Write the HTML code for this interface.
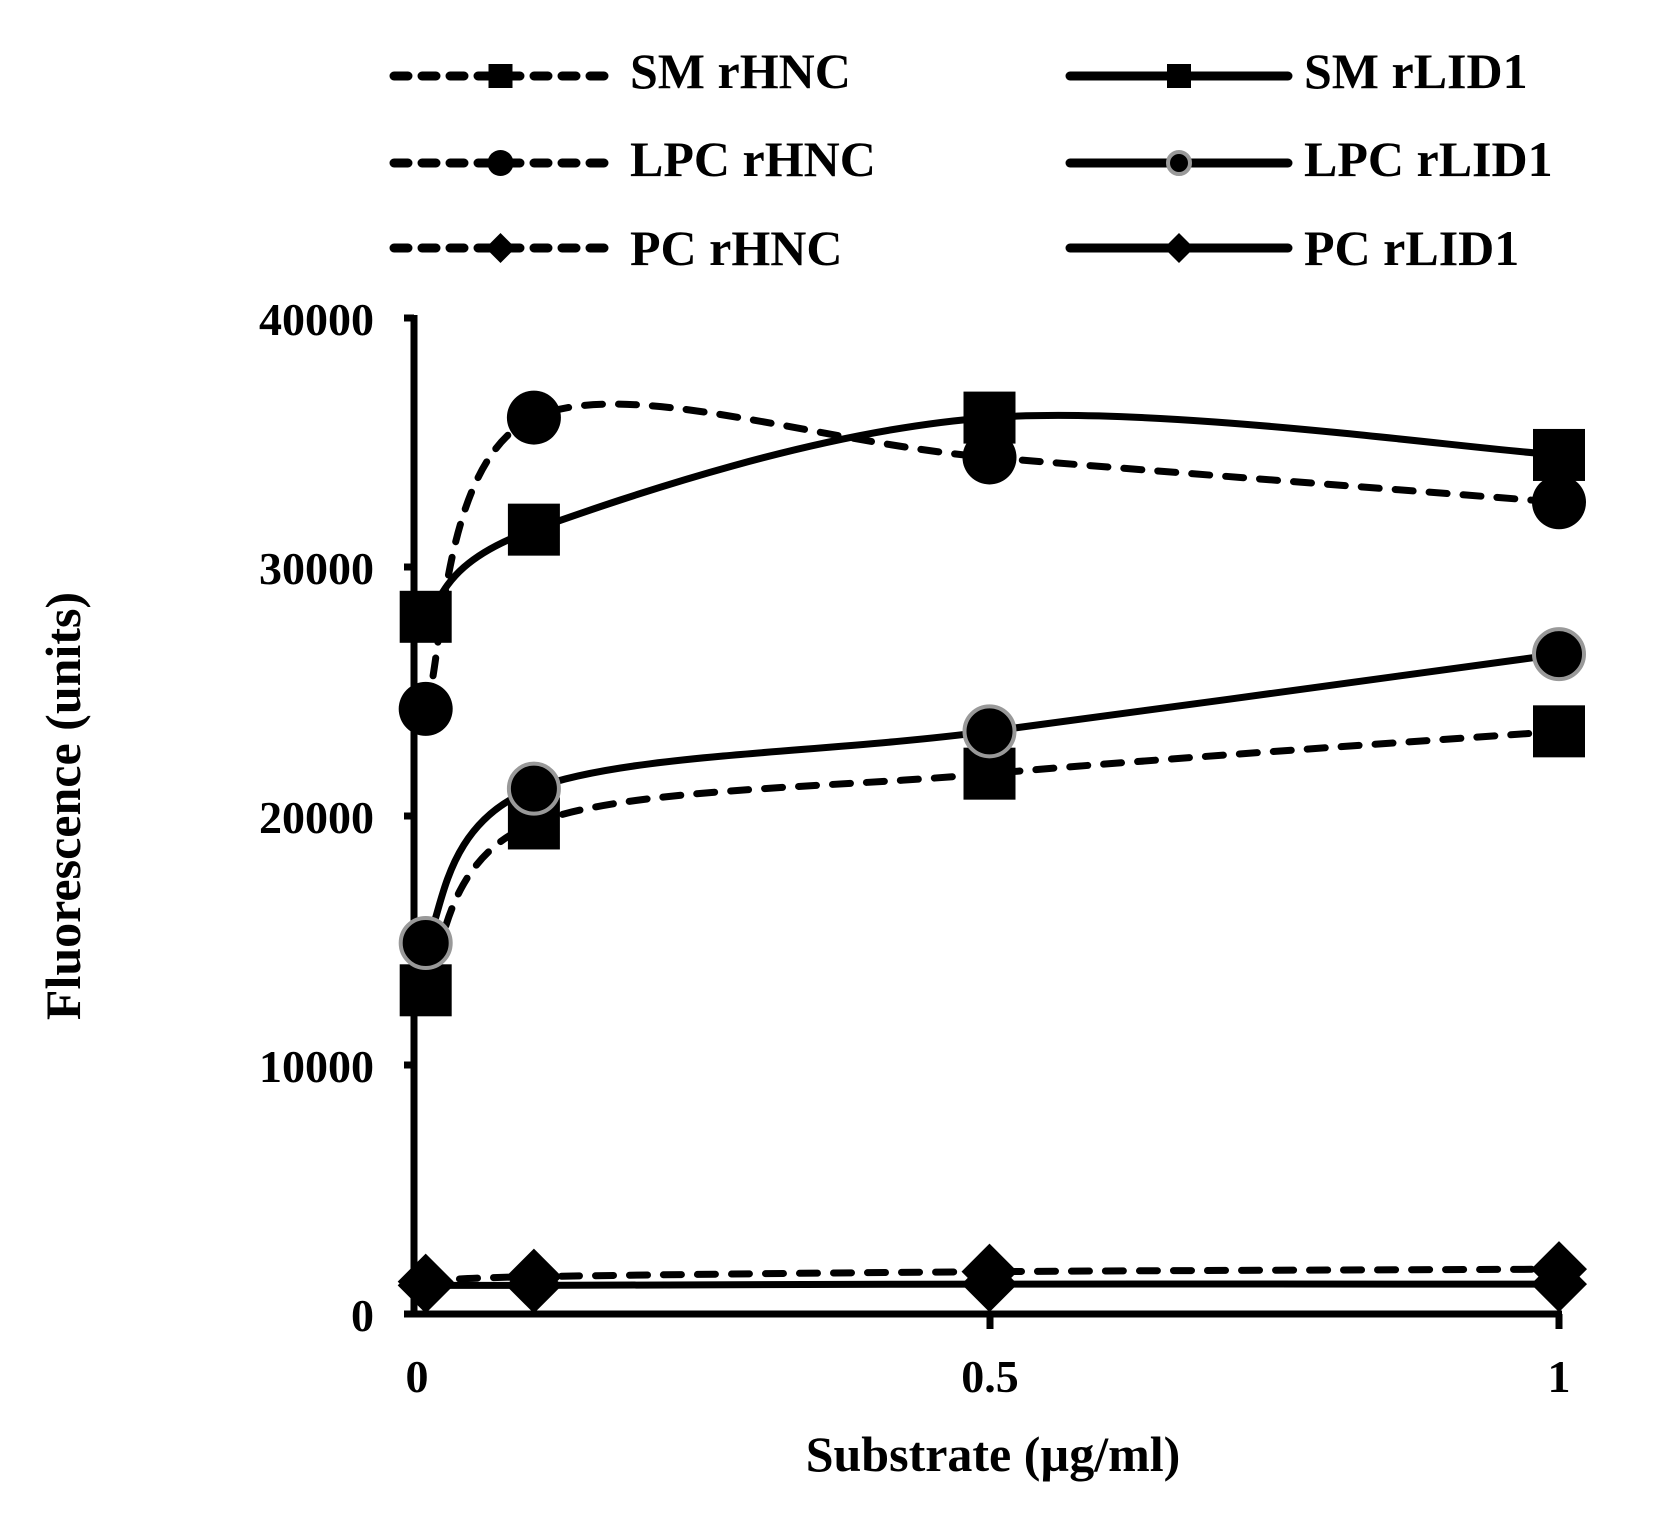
<!DOCTYPE html>
<html><head><meta charset="utf-8"><style>
html,body{margin:0;padding:0;background:#fff}
svg{display:block}
text{font-family:"Liberation Serif",serif;font-weight:bold;fill:#000}
</style></head><body>
<svg id="s" width="1653" height="1531" viewBox="0 0 1653 1531" xmlns="http://www.w3.org/2000/svg">
<g font-size="50">
<text x="630" y="88">SM rHNC</text>
<text x="630" y="176">LPC rHNC</text>
<text x="630" y="265">PC rHNC</text>
<text x="1304" y="88">SM rLID1</text>
<text x="1304" y="176">LPC rLID1</text>
<text x="1304" y="265">PC rLID1</text>
</g>
<g font-size="46" text-anchor="end">
<text x="374" y="335">40000</text>
<text x="374" y="584">30000</text>
<text x="374" y="833">20000</text>
<text x="374" y="1082">10000</text>
<text x="374" y="1331">0</text>
</g>
<g font-size="46" text-anchor="middle">
<text x="417" y="1392">0</text>
<text x="990" y="1392">0.5</text>
<text x="1559" y="1392">1</text>
<text x="993" y="1471" font-size="50">Substrate (µg/ml)</text>
<text transform="translate(80,806) rotate(-90)" font-size="50">Fluorescence (units)</text>
</g>
<g stroke="#000" stroke-width="7" fill="none">
<line x1="414" y1="315" x2="414" y2="1317"/>
<line x1="404" y1="318" x2="414" y2="318"/>
<line x1="404" y1="567" x2="414" y2="567"/>
<line x1="404" y1="816" x2="414" y2="816"/>
<line x1="404" y1="1065" x2="414" y2="1065"/>
<line x1="404" y1="1314" x2="1562" y2="1314"/>
<line x1="990" y1="1314" x2="990" y2="1329"/>
<line x1="1559" y1="1314" x2="1559" y2="1329"/>
</g>
<g id="plot"></g>
<g id="leg"></g>
</svg>
<script>
var X=function(x){return 420+x*1139},Y=function(v){return 1314-v*0.0249};
var xs=[0.005,0.1,0.5,1];
var S=[
{d:[13000,19700,21700,23400],dash:1,m:'sq'},
{d:[28000,31500,36000,34500],dash:0,m:'sq'},
{d:[24300,36000,34400,32600],dash:1,m:'ci'},
{d:[14900,21100,23400,26500],dash:0,m:'cg'},
{d:[1300,1500,1700,1800],dash:1,m:'di'},
{d:[1150,1150,1200,1200],dash:0,m:'di'}];
var NS='http://www.w3.org/2000/svg',P=document.getElementById('plot'),L=document.getElementById('leg');
function el(t,a,p){var e=document.createElementNS(NS,t);for(var k in a)e.setAttribute(k,a[k]);p.appendChild(e);return e;}
function path(pts){var d='M'+pts[0][0]+','+pts[0][1];for(var i=0;i<pts.length-1;i++){var p0=pts[Math.max(i-1,0)],p1=pts[i],p2=pts[i+1],p3=pts[Math.min(i+2,pts.length-1)];var t=1/3;d+=' C'+(p1[0]+(p2[0]-p0[0])*t/2)+','+(p1[1]+(p2[1]-p0[1])*t/2)+' '+(p2[0]-(p3[0]-p1[0])*t/2)+','+(p2[1]-(p3[1]-p1[1])*t/2)+' '+p2[0]+','+p2[1];}return d;}
function marker(m,x,y,s,g){
 if(m=='sq')el('rect',{x:x-s,y:y-s,width:2*s,height:2*s,fill:'#000'},g);
 else if(m=='ci')el('circle',{cx:x,cy:y,r:s,fill:'#000'},g);
 else if(m=='cg')el('circle',{cx:x,cy:y,r:s-2,fill:'#000',stroke:'#999','stroke-width':4},g);
 else el('polygon',{points:(x)+','+(y-s)+' '+(x+s)+','+y+' '+x+','+(y+s)+' '+(x-s)+','+y,fill:'#000'},g);
}
S.forEach(function(s){
 var pts=s.d.map(function(v,i){return [X(xs[i]),Y(v)]});
 var a={d:path(pts),fill:'none',stroke:'#000','stroke-width':7,'stroke-linecap':'round'};
 if(s.dash)a['stroke-dasharray']='18 16';
 el('path',a,P);
 pts.forEach(function(p){marker(s.m,p[0],p[1],s.m=='sq'?26:(s.m=='di'?28:27),P)});
});
var rows=[76,163,248];
S.forEach(function(s,i){
 var left=[0,2,4].indexOf(i)>=0;
 var r=left?[0,2,4].indexOf(i):[1,3,5].indexOf(i);
 var x1=left?394:1070,x2=left?607:1288,y=rows[r];
 var a={x1:x1,y1:y,x2:x2,y2:y,stroke:'#000','stroke-width':9,'stroke-linecap':'round'};
 if(s.dash)a['stroke-dasharray']='14 14';
 el('line',a,L);
 marker(s.m,(x1+x2)/2,y,s.m=='sq'?12:(s.m=='di'?15:13),L);
});
</script>
</body></html>
